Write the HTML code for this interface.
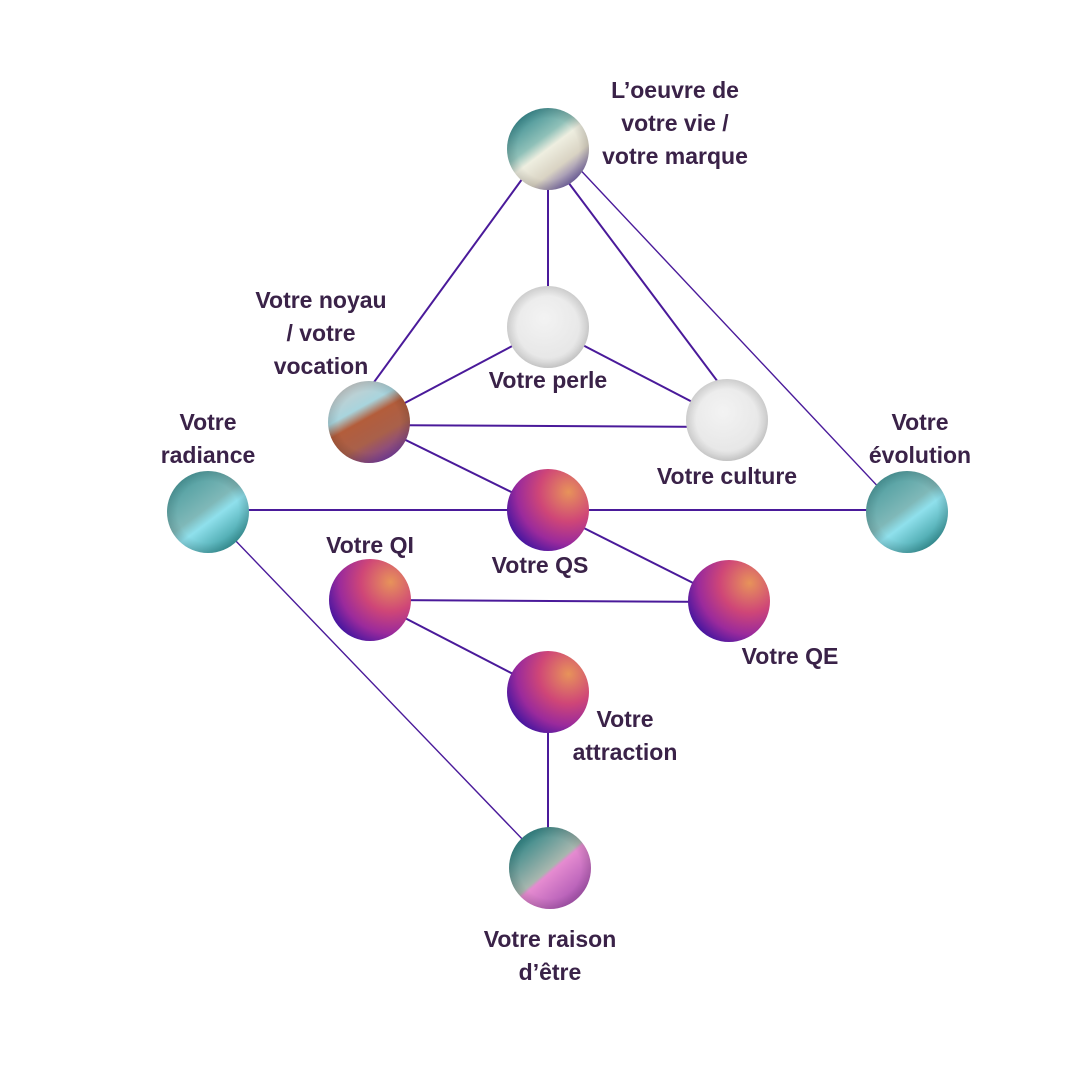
<!DOCTYPE html>
<html><head><meta charset="utf-8"><style>
html,body{margin:0;padding:0;background:#fff;}
svg{display:block}
text{font-family:"Liberation Sans",sans-serif;font-weight:bold;font-size:23px;fill:#3a2248;text-anchor:middle}
</style></head><body>
<svg width="1080" height="1080" viewBox="0 0 1080 1080" xmlns="http://www.w3.org/2000/svg">
<defs>
<radialGradient id="pink" cx="0.75" cy="0.28" r="0.9">
<stop offset="0" stop-color="#e7935a"/><stop offset="0.4" stop-color="#cf4677"/><stop offset="0.7" stop-color="#9a2a9c"/><stop offset="1" stop-color="#2a0fa0"/>
</radialGradient>
<radialGradient id="white" cx="0.45" cy="0.4" r="0.7">
<stop offset="0" stop-color="#f3f3f3"/><stop offset="0.75" stop-color="#e6e6e6"/><stop offset="1" stop-color="#d2d2d2"/>
</radialGradient>
<linearGradient id="teal" x1="0.2" y1="0.1" x2="0.8" y2="0.9">
<stop offset="0" stop-color="#4f9ea0"/><stop offset="0.45" stop-color="#7fb8b8"/><stop offset="0.6" stop-color="#8fe0ec"/><stop offset="1" stop-color="#3b9b9f"/>
</linearGradient>
<linearGradient id="top" x1="0.2" y1="0.1" x2="0.8" y2="0.9">
<stop offset="0" stop-color="#3e8f93"/><stop offset="0.35" stop-color="#8fc0b8"/><stop offset="0.5" stop-color="#eeeee0"/><stop offset="0.75" stop-color="#d9d3c3"/><stop offset="1" stop-color="#7a6aa8"/>
</linearGradient>
<linearGradient id="noyau" x1="0.25" y1="0.05" x2="0.75" y2="0.95">
<stop offset="0" stop-color="#c9cfcf"/><stop offset="0.3" stop-color="#a8d4dd"/><stop offset="0.45" stop-color="#b35d3b"/><stop offset="0.7" stop-color="#a9604a"/><stop offset="1" stop-color="#7b3fa0"/>
</linearGradient>
<linearGradient id="raison" x1="0.2" y1="0.15" x2="0.8" y2="0.85">
<stop offset="0" stop-color="#3a8a8a"/><stop offset="0.5" stop-color="#a7b6ae"/><stop offset="0.55" stop-color="#e58bd0"/><stop offset="1" stop-color="#b05ab5"/>
</linearGradient>
<radialGradient id="shade" cx="0.5" cy="0.5" r="0.5">
<stop offset="0.75" stop-color="#000" stop-opacity="0"/><stop offset="1" stop-color="#000" stop-opacity="0.12"/>
</radialGradient>
</defs>
<g stroke="#4a1a9a" stroke-width="2" fill="none">
<line x1="528" y1="171" x2="369" y2="389"/>
<line x1="548" y1="149" x2="548" y2="327"/>
<line x1="562" y1="174" x2="727" y2="394"/>
<line x1="572" y1="161" x2="900" y2="510" stroke-width="1.4"/>
<line x1="548" y1="327" x2="369" y2="422"/>
<line x1="548" y1="327" x2="727" y2="420"/>
<line x1="369" y1="425" x2="727" y2="427"/>
<line x1="369" y1="422" x2="548" y2="510"/>
<line x1="208" y1="510" x2="907" y2="510"/>
<line x1="548" y1="510" x2="729" y2="601"/>
<line x1="370" y1="600" x2="729" y2="602"/>
<line x1="370" y1="600" x2="548" y2="692"/>
<line x1="548" y1="692" x2="548" y2="868"/>
<line x1="208" y1="512" x2="550" y2="868" stroke-width="1.4"/>
</g>
<g>
<circle cx="548" cy="149" r="41" fill="url(#top)"/>
<circle cx="548" cy="327" r="41" fill="url(#white)"/>
<circle cx="727" cy="420" r="41" fill="url(#white)"/>
<circle cx="369" cy="422" r="41" fill="url(#noyau)"/>
<circle cx="208" cy="512" r="41" fill="url(#teal)"/>
<circle cx="907" cy="512" r="41" fill="url(#teal)"/>
<circle cx="548" cy="510" r="41" fill="url(#pink)"/>
<circle cx="370" cy="600" r="41" fill="url(#pink)"/>
<circle cx="729" cy="601" r="41" fill="url(#pink)"/>
<circle cx="548" cy="692" r="41" fill="url(#pink)"/>
<circle cx="550" cy="868" r="41" fill="url(#raison)"/>
</g>
<g fill="url(#shade)">
<circle cx="548" cy="149" r="41"/><circle cx="548" cy="327" r="41"/><circle cx="727" cy="420" r="41"/>
<circle cx="369" cy="422" r="41"/><circle cx="208" cy="512" r="41"/><circle cx="907" cy="512" r="41"/>
<circle cx="550" cy="868" r="41"/>
</g>
<text x="675" y="98">L’oeuvre de</text>
<text x="675" y="131">votre vie /</text>
<text x="675" y="164">votre marque</text>
<text x="321" y="308">Votre noyau</text>
<text x="321" y="341">/ votre</text>
<text x="321" y="374">vocation</text>
<text x="548" y="388">Votre perle</text>
<text x="208" y="430">Votre</text>
<text x="208" y="463">radiance</text>
<text x="727" y="484">Votre culture</text>
<text x="920" y="430">Votre</text>
<text x="920" y="463">évolution</text>
<text x="370" y="553">Votre QI</text>
<text x="540" y="573">Votre QS</text>
<text x="790" y="664">Votre QE</text>
<text x="625" y="727">Votre</text>
<text x="625" y="760">attraction</text>
<text x="550" y="947">Votre raison</text>
<text x="550" y="980">d’être</text>
</svg>
</body></html>
